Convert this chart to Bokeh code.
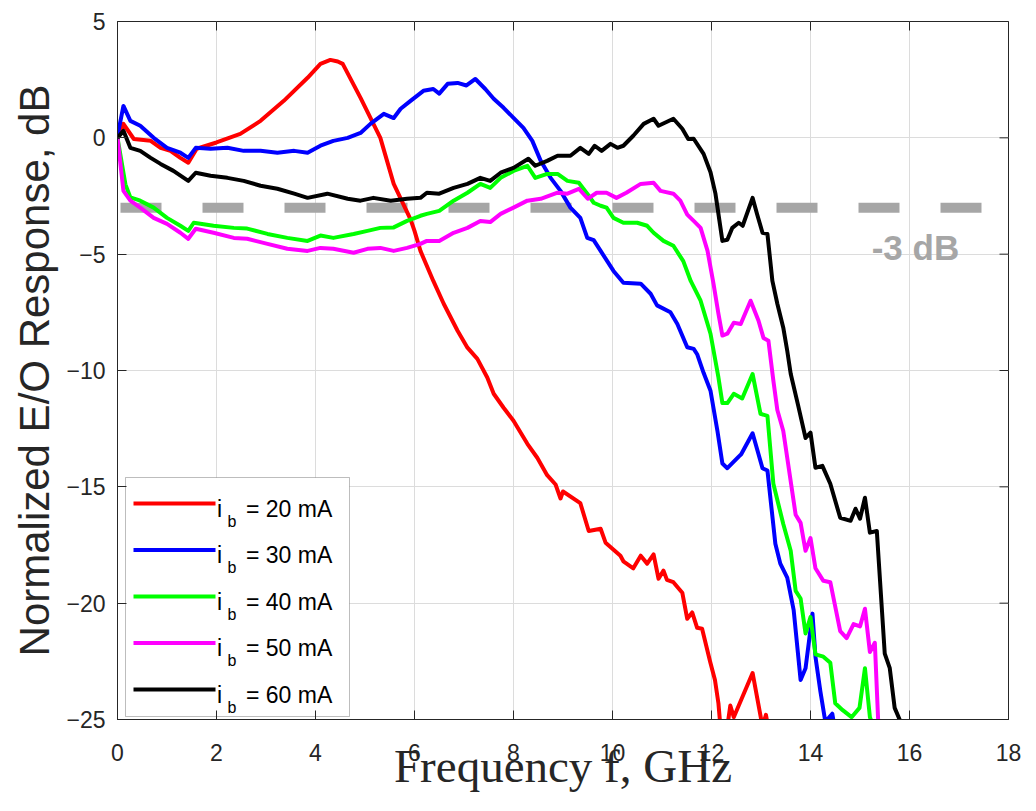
import math
from bokeh.plotting import figure
from bokeh.models import Span, Label, FixedTicker, Range1d, BoxAnnotation
from bokeh.embed import file_html
from bokeh.resources import INLINE

# ---------------- data ----------------
currents_mA = [20, 30, 40, 50, 60]
series_colors = ["#FF0000", "#0000FF", "#00FF00", "#FF00FF", "#000000"]

f_20 = [0, 0.12, 0.33, 0.67, 0.87, 1.07, 1.27, 1.43, 1.6, 2.0, 2.48, 2.89, 3.36, 3.84, 4.1,
        4.3, 4.45, 4.55, 4.91, 5.31, 5.58, 5.92, 6.0, 6.12, 6.38, 6.59, 6.87, 7.07, 7.27, 7.47,
        7.6, 7.8, 8.0, 8.28, 8.48, 8.68, 8.85, 8.95, 9.0, 9.35, 9.52, 9.76, 9.86, 10.16, 10.22,
        10.42, 10.57, 10.7, 10.83, 10.93, 11.03, 11.1, 11.23, 11.41, 11.51, 11.61, 11.71, 11.81,
        11.97, 12.07, 12.14, 12.2, 12.3, 12.38, 12.45, 12.83, 13.03, 13.1, 13.15]
db_20 = [0, 0.6, -0.05, -0.13, -0.43, -0.56, -0.86, -1.07, -0.47, -0.2, 0.17, 0.73, 1.59, 2.58, 3.18,
         3.35, 3.28, 3.18, 1.72, 0.0, -1.98, -3.5, -4.0, -4.86, -6.15, -7.13, -8.29, -9.02, -9.5, -10.3,
         -11.0, -11.6, -12.16, -13.15, -13.75, -14.5, -14.9, -15.5, -15.2, -15.7, -16.9, -16.8, -17.4, -17.96, -18.2,
         -18.5, -17.96, -18.3, -17.9, -18.95, -18.6, -19.0, -19.1, -19.55, -20.67, -20.4, -21.06, -21.1,
         -22.5, -23.3, -24.3, -25.8, -25.6, -24.4, -24.9, -23.0, -25.3, -24.8, -25.4]

f_30 = [0, 0.12, 0.26, 0.46, 0.73, 1.0, 1.27, 1.43, 1.58, 1.88, 2.22, 2.55, 2.89, 3.23, 3.57, 3.84,
        4.1, 4.36, 4.65, 4.91, 5.11, 5.38, 5.58, 5.72, 5.92, 6.18, 6.38, 6.5, 6.67, 6.87, 7.05, 7.23,
        7.43, 7.6, 7.8, 8.0, 8.2, 8.38, 8.55, 8.75, 8.95, 9.15, 9.35, 9.49, 9.62, 9.76, 10.02, 10.22,
        10.57, 10.77, 10.9, 11.17, 11.31, 11.51, 11.64, 11.71, 11.84, 11.98, 12.12, 12.22, 12.32,
        12.55, 12.6, 12.83, 13.03, 13.13, 13.29, 13.39, 13.53, 13.66, 13.8, 13.9, 14.04, 14.1, 14.2,
        14.3, 14.44, 14.5]
db_30 = [0.08, 1.37, 0.73, 0.52, 0.0, -0.43, -0.64, -0.86, -0.43, -0.47, -0.43, -0.56, -0.56, -0.64, -0.56, -0.64,
         -0.34, -0.13, 0.0, 0.21, 0.6, 1.03, 0.85, 1.25, 1.59, 2.02, 2.1, 1.9, 2.32, 2.36, 2.25, 2.53,
         2.1, 1.68, 1.29, 0.86, 0.43, -0.13, -0.99, -1.72, -2.28, -3.0, -3.44, -4.3, -4.4, -4.86, -5.72, -6.23,
         -6.27, -6.7, -7.2, -7.5, -8.0, -9.0, -9.07, -9.3, -10.1, -10.87, -12.6, -14.0, -14.2,
         -13.7, -13.6, -12.7, -14.2, -14.3, -17.45, -18.3, -18.9, -20.3, -23.3, -22.8, -20.45, -22.3, -23.8,
         -25.1, -24.75, -25.5]

f_40 = [0, 0.16, 0.26, 0.46, 0.73, 1.0, 1.27, 1.43, 1.54, 1.94, 2.35, 2.62, 3.03, 3.43, 3.84, 4.1,
        4.36, 4.77, 5.05, 5.31, 5.58, 5.85, 6.12, 6.25, 6.5, 6.79, 7.07, 7.33, 7.53, 7.74, 8.0, 8.28,
        8.44, 8.68, 8.89, 9.09, 9.32, 9.49, 9.62, 9.76, 9.88, 10.02, 10.22, 10.5, 10.7, 10.83, 11.03,
        11.23, 11.43, 11.58, 11.78, 11.98, 12.14, 12.22, 12.32, 12.45, 12.62, 12.83, 12.99, 13.13,
        13.25, 13.45, 13.6, 13.7, 13.8, 13.9, 14.0, 14.1, 14.26, 14.4, 14.5, 14.65, 14.83, 14.99,
        15.1, 15.2, 15.27]
db_40 = [0, -2.0, -2.56, -2.7, -3.0, -3.44, -3.78, -4.0, -3.65, -3.78, -3.87, -3.9, -4.13, -4.3, -4.43, -4.2,
         -4.3, -4.13, -4.0, -3.87, -3.85, -3.57, -3.35, -3.27, -3.14, -2.7, -2.36, -1.98, -2.15, -1.72, -1.42, -1.2,
         -1.72, -1.55, -1.55, -1.85, -1.93, -2.4, -2.79, -2.92, -3.0, -3.44, -3.65, -3.65, -3.78, -4.08, -4.43,
         -4.64, -5.3, -6.15, -7.0, -8.42, -10.3, -11.4, -11.4, -11.0, -11.2, -10.15, -11.86, -11.95,
         -14.87, -16.6, -17.75, -19.47, -19.8, -21.3, -20.6, -22.2, -22.3, -22.56, -24.3, -24.6, -24.9, -24.5,
         -22.8, -24.9, -25.3]

f_50 = [0, 0.12, 0.26, 0.46, 0.73, 1.0, 1.27, 1.43, 1.58, 1.94, 2.35, 2.62, 3.03, 3.43, 3.84, 4.1,
        4.36, 4.77, 5.05, 5.31, 5.58, 5.85, 6.12, 6.25, 6.5, 6.79, 7.07, 7.33, 7.53, 7.74, 8.0, 8.28,
        8.55, 8.89, 9.09, 9.32, 9.5, 9.68, 9.88, 10.08, 10.28, 10.57, 10.83, 10.97, 11.23, 11.37,
        11.51, 11.64, 11.78, 11.92, 12.04, 12.14, 12.22, 12.32, 12.45, 12.59, 12.79, 12.95, 13.05,
        13.15, 13.25, 13.33, 13.45, 13.7, 13.8, 13.9, 14.0, 14.1, 14.26, 14.4, 14.6, 14.73, 14.87,
        15.0, 15.1, 15.2, 15.3, 15.37]
db_50 = [0, -2.28, -2.7, -3.0, -3.44, -3.7, -4.08, -4.34, -3.91, -4.08, -4.3, -4.34, -4.56, -4.77, -4.86, -4.73,
         -4.77, -4.94, -4.77, -4.73, -4.86, -4.73, -4.56, -4.43, -4.43, -4.08, -3.87, -3.57, -3.62, -3.27, -3.0, -2.7,
         -2.62, -2.36, -2.4, -2.19, -2.62, -2.36, -2.36, -2.58, -2.36, -1.98, -1.93, -2.28, -2.4, -2.7,
         -3.3, -3.57, -3.87, -4.86, -6.27, -7.56, -8.5, -8.42, -7.95, -8.0, -7.0, -7.86, -8.6,
         -8.72, -10.44, -11.7, -12.6, -16.2, -16.55, -17.75, -17.2, -18.5, -19.04, -19.1, -21.2, -21.5, -20.9,
         -21.0, -20.24, -22.1, -21.7, -25.2]

f_60 = [0, 0.12, 0.26, 0.46, 0.67, 0.87, 1.13, 1.43, 1.58, 1.88, 2.22, 2.55, 2.89, 3.23, 3.57, 3.84,
        4.24, 4.65, 4.91, 5.17, 5.52, 5.85, 6.12, 6.25, 6.5, 6.79, 7.07, 7.33, 7.53, 7.74, 8.0, 8.3,
        8.44, 8.68, 8.89, 9.15, 9.35, 9.52, 9.64, 9.78, 9.96, 10.1, 10.22, 10.42, 10.63, 10.83, 10.93,
        11.23, 11.41, 11.53, 11.64, 11.84, 11.98, 12.08, 12.14, 12.22, 12.32, 12.42, 12.55, 12.63,
        12.83, 12.92, 13.03, 13.13, 13.23, 13.33, 13.45, 13.53, 13.6, 13.75, 13.9, 14.0, 14.1, 14.24,
        14.4, 14.6, 14.81, 14.91, 15.0, 15.1, 15.2, 15.34, 15.5, 15.6, 15.7, 15.84]
db_60 = [0, 0.3, -0.43, -0.56, -0.86, -1.12, -1.42, -1.85, -1.5, -1.63, -1.72, -1.85, -2.06, -2.19, -2.4, -2.58,
         -2.4, -2.62, -2.7, -2.58, -2.7, -2.62, -2.58, -2.36, -2.4, -2.15, -1.98, -1.72, -1.85, -1.5, -1.29, -0.9,
         -1.2, -0.99, -0.77, -0.77, -0.43, -0.69, -0.34, -0.56, -0.26, -0.43, -0.34, 0.09, 0.6, 0.82, 0.52,
         0.82, 0.39, -0.05, -0.04, -0.69, -1.48, -2.4, -3.27, -4.43, -4.38, -3.87, -3.65, -3.78,
         -2.58, -3.27, -4.08, -4.13, -6.15, -7.13, -8.16, -9.15, -10.14, -11.5, -12.9, -12.67, -14.18, -14.1,
         -14.87, -16.33, -16.46, -15.94, -16.37, -15.47, -16.97, -16.9, -22.17, -22.78, -24.5, -25.2]

freqs = [f_20, f_30, f_40, f_50, f_60]
responses = [db_20, db_30, db_40, db_50, db_60]

x_ticks = [0, 2, 4, 6, 8, 10, 12, 14, 16, 18]
y_ticks = [-25, -20, -15, -10, -5, 0, 5]
x_min, x_max = 0, 18
y_min, y_max = -25, 5
cutoff_db = -3
cutoff_text = "-3 dB"
y_label = "Normalized E/O Response, dB"
x_label = "Frequency f, GHz"
legend_symbol, legend_sub = "i", "b"
legend_texts = ["= %d mA" % c for c in currents_mA]

# ---------------- figure ----------------
AX = "#262626"
p = figure(width=1030, height=800, x_range=Range1d(x_min, x_max), y_range=Range1d(y_min, y_max),
           output_backend="svg", toolbar_location=None,
           min_border_left=117, min_border_right=22, min_border_top=21, min_border_bottom=81)
p.background_fill_color = "white"
p.border_fill_color = "white"
p.outline_line_color = AX
p.outline_line_width = 1

xt = FixedTicker(ticks=x_ticks)
yt = FixedTicker(ticks=y_ticks)
p.xaxis[0].ticker = xt
p.yaxis[0].ticker = yt
p.xgrid.ticker = xt
p.ygrid.ticker = yt
for g in (p.xgrid, p.ygrid):
    g.grid_line_color = "#DCDCDC"
    g.grid_line_width = 1

for ax in (p.xaxis[0], p.yaxis[0]):
    ax.major_tick_in = 9
    ax.major_tick_out = 0
    ax.minor_tick_line_color = None
    ax.axis_line_color = AX
    ax.major_tick_line_color = AX
    ax.major_label_text_font = "Liberation Sans"
    ax.major_label_text_font_size = "23px"
    ax.major_label_text_color = AX
p.yaxis[0].major_label_standoff = 12
p.xaxis[0].major_label_standoff = 24

p.yaxis[0].axis_label = y_label
p.yaxis[0].axis_label_text_font = "Liberation Sans"
p.yaxis[0].axis_label_text_font_size = "42px"
p.yaxis[0].axis_label_text_font_style = "normal"
p.yaxis[0].axis_label_text_color = AX
p.yaxis[0].axis_label_standoff = 5

p.xaxis[0].axis_label = x_label
p.xaxis[0].axis_label_text_font = "Liberation Serif"
p.xaxis[0].axis_label_text_font_size = "47px"
p.xaxis[0].axis_label_text_font_style = "normal"
p.xaxis[0].axis_label_text_color = AX
p.xaxis[0].axis_label_standoff = -24

# inward box ticks on the top and right edges (half of each dash is clipped by the frame)
p.scatter(x=x_ticks, y=[y_max] * len(x_ticks), marker="dash", angle=math.pi / 2, size=18,
          line_color=AX, line_width=1)
p.scatter(x=[x_max] * len(y_ticks), y=y_ticks, marker="dash", size=18, line_color=AX, line_width=1)

# -3 dB reference line
span = Span(location=cutoff_db, dimension="width", line_color="#A6A6A6", line_width=10,
            line_dash="41 41", line_dash_offset=79, level="underlay")
p.add_layout(span)

renderers = []
for fx, dbv, col in zip(freqs, responses, series_colors):
    r = p.line(fx, dbv, line_color=col, line_width=4, line_join="round")
    renderers.append(r)

p.add_layout(Label(x=16.12, y=-4.73, text=cutoff_text, text_align="center", text_baseline="middle",
                   text_font="Liberation Sans", text_font_size="35px", text_font_style="bold",
                   text_color="#A6A6A6"))

# ---------------- legend (drawn by hand, screen units relative to the plot frame) ----------------
box_left, box_bottom, box_w, box_h = 8, 3, 224, 239
row0_center, row_pitch = 216, 46.5      # center of first row, measured from frame bottom
key_x0, key_x1, key_th = 16, 98, 4      # key line start/end and thickness
p.add_layout(BoxAnnotation(left=box_left, right=box_left + box_w,
                           bottom=box_bottom, top=box_bottom + box_h,
                           left_units="screen", right_units="screen",
                           top_units="screen", bottom_units="screen",
                           fill_color="white", fill_alpha=1.0, line_color=AX, line_width=1,
                           level="underlay"))
for i, (col, txt) in enumerate(zip(series_colors, legend_texts)):
    cy = row0_center - i * row_pitch
    p.add_layout(BoxAnnotation(left=key_x0, right=key_x1, bottom=cy - key_th / 2, top=cy + key_th / 2,
                               left_units="screen", right_units="screen",
                               top_units="screen", bottom_units="screen",
                               fill_color=col, fill_alpha=1.0, line_color=None))
    common = dict(x_units="screen", y_units="screen", text_font="Liberation Sans",
                  text_color="black", text_baseline="alphabetic", text_align="left")
    p.add_layout(Label(x=99.5, y=cy - 5, text=legend_symbol, text_font_size="23px", **common))
    p.add_layout(Label(x=110, y=cy - 17.5, text=legend_sub, text_font_size="16px", **common))
    p.add_layout(Label(x=128.5, y=cy - 5, text=txt, text_font_size="23px", **common))

open("out.html", "w").write(file_html(p, INLINE))
